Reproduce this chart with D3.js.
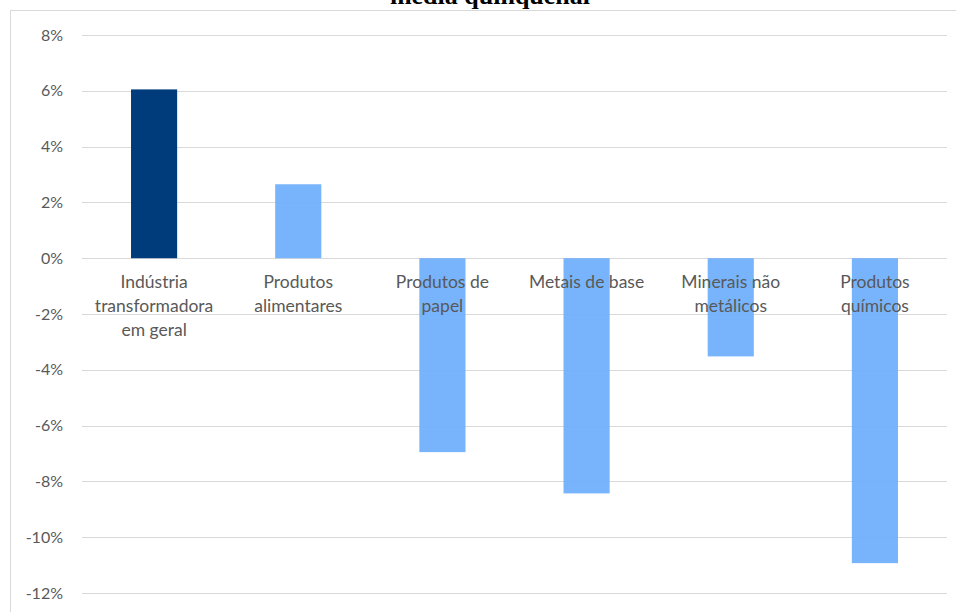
<!DOCTYPE html>
<html>
<head>
<meta charset="utf-8">
<script src="https://cdn.jsdelivr.net/npm/d3@7"></script>
<style>
  html, body { margin: 0; padding: 0; background: #ffffff; }
  svg { display: block; }
</style>
</head>
<body>
<svg id="chart" width="956" height="612"></svg>
<script>
// Variação face à média quinquenal, por ramo industrial
const categories = [
  ["Indústria", "transformadora", "em geral"],
  ["Produtos", "alimentares"],
  ["Produtos de", "papel"],
  ["Metais de base"],
  ["Minerais não", "metálicos"],
  ["Produtos", "químicos"]
];
const values = [6.05, 2.65, -6.95, -8.43, -3.52, -10.93];
const highlighted = [true, false, false, false, false, false];
const tickValues = [8, 6, 4, 2, 0, -2, -4, -6, -8, -10, -12];
const titleText = "média quinquenal";

const svg = d3.select("#chart");
const W = 956, H = 612;

// Chart frame
svg.append("rect")
  .attr("x", 10.5).attr("y", 10.5)
  .attr("width", W + 10).attr("height", H + 10)
  .attr("fill", "#ffffff")
  .attr("stroke", "#d9d9d9")
  .attr("stroke-width", 1);

// Title (second line of a title running above the visible area)
svg.append("text")
  .attr("x", 490).attr("y", 4)
  .attr("text-anchor", "middle")
  .attr("font-family", "'Liberation Serif', 'Times New Roman', serif")
  .attr("font-weight", "bold")
  .attr("font-size", 26)
  .attr("fill", "#000000")
  .text(titleText);

const plot = { left: 82, right: 947, top: 35, bottom: 593 };

const x = d3.scaleBand()
  .domain(d3.range(categories.length))
  .range([plot.left, plot.right])
  .paddingInner(0.68)
  .paddingOuter(0.34);

const y = d3.scaleLinear()
  .domain([-12, 8])
  .range([plot.bottom, plot.top]);

// Gridlines
svg.append("g")
  .selectAll("line")
  .data(tickValues)
  .join("line")
  .attr("x1", plot.left).attr("x2", plot.right)
  .attr("y1", d => Math.round(y(d)) + 0.5)
  .attr("y2", d => Math.round(y(d)) + 0.5)
  .attr("stroke", "#d9d9d9")
  .attr("stroke-width", 1);

// Y axis labels
const yAxis = d3.axisLeft(y)
  .tickValues(tickValues)
  .tickSize(0)
  .tickPadding(0)
  .tickFormat(d => d + "%");
const yg = svg.append("g")
  .attr("transform", `translate(${plot.left - 19},0)`)
  .call(yAxis);
yg.select(".domain").remove();
yg.selectAll("text")
  .attr("font-family", "Lato, 'Open Sans', sans-serif")
  .attr("font-size", 16)
  .attr("fill", "#595959");

// Bars
svg.append("g")
  .selectAll("rect")
  .data(values)
  .join("rect")
  .attr("x", (d, i) => x(i))
  .attr("width", x.bandwidth())
  .attr("y", d => y(Math.max(0, d)))
  .attr("height", d => Math.abs(y(d) - y(0)))
  .attr("fill", (d, i) => highlighted[i] ? "#003b7c" : "#6eaffb")
  .attr("fill-opacity", (d, i) => highlighted[i] ? 1 : 0.94);

// Category labels, drawn below the zero line
const xg = svg.append("g");
categories.forEach((lines, i) => {
  const t = xg.append("text")
    .attr("x", x(i) + x.bandwidth() / 2)
    .attr("y", y(0) + 30)
    .attr("text-anchor", "middle")
    .attr("font-family", "Lato, 'Open Sans', sans-serif")
    .attr("font-size", 17.5)
    .attr("fill", "#595959");
  lines.forEach((ln, j) => {
    t.append("tspan")
      .attr("x", x(i) + x.bandwidth() / 2)
      .attr("dy", j === 0 ? 0 : 24)
      .text(ln);
  });
});
</script>
</body>
</html>
